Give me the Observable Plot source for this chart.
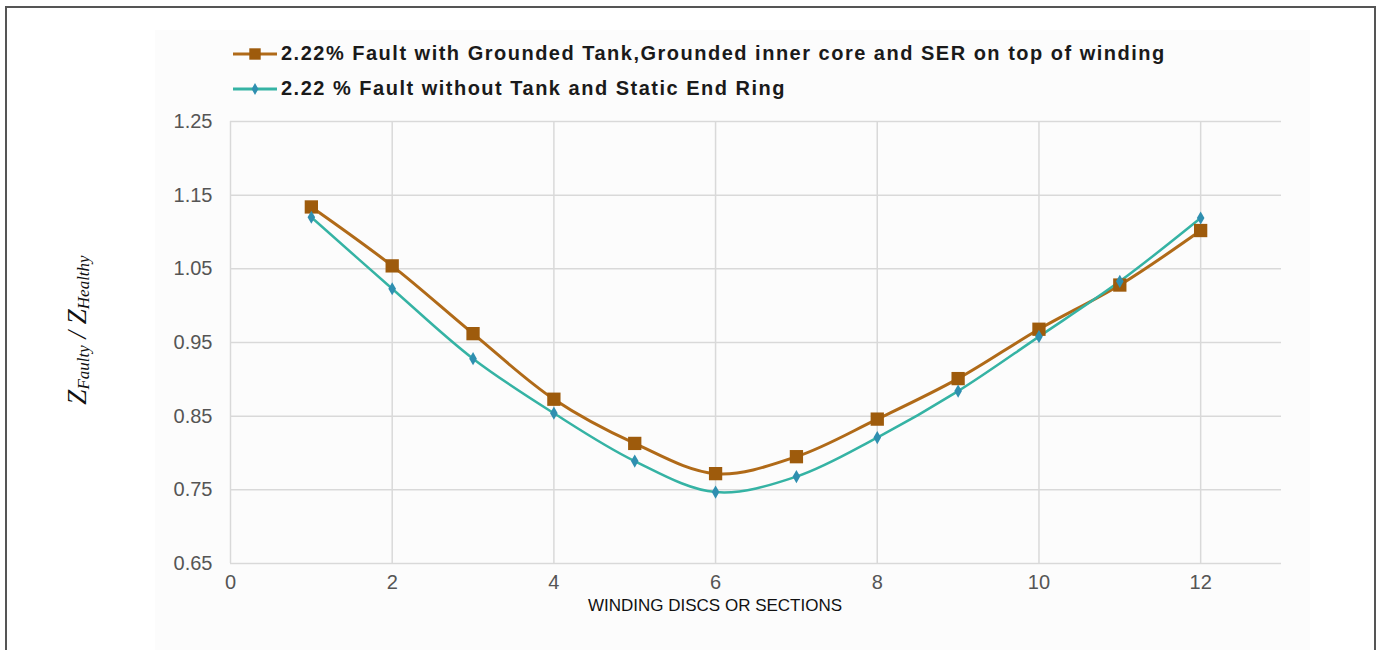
<!DOCTYPE html>
<html>
<head>
<meta charset="utf-8">
<script src="https://cdn.jsdelivr.net/npm/d3@7"></script>
<script src="https://cdn.jsdelivr.net/npm/@observablehq/plot@0.6"></script>
<style>
  html, body { margin: 0; padding: 0; background: #ffffff; }
  #wrap { position: relative; width: 1384px; height: 650px; overflow: hidden; }
  #frame { position: absolute; left: 5px; top: 6px; width: 1371px; height: 700px; border: 2px solid #555555; box-sizing: border-box; }
  #bg { position: absolute; left: 155px; top: 30px; width: 1155px; height: 620px; background: #fcfcfc; }
  #chart { position: absolute; left: 0; top: 0; }
  #legend { position: absolute; left: 233px; top: 36px; font-family: "Liberation Sans", Arial, sans-serif; font-weight: bold; font-size: 20px; color: #1a1a1a; letter-spacing: 1.5px; }
  .item { display: flex; align-items: center; height: 35px; }
  .item svg { margin-right: 2px; }
  #ylabel { position: absolute; left: 78px; top: 330px; transform: translate(-50%, -50%) rotate(-90deg); font-family: "Liberation Serif", "Times New Roman", serif; font-style: italic; font-size: 27px; white-space: nowrap; color: #111; }
  #ylabel sub { font-size: 17px; vertical-align: -3px; }
  #xlabel { position: absolute; left: 715px; top: 606px; transform: translate(-50%, -50%); font-family: "Liberation Sans", Arial, sans-serif; font-size: 17px; color: #111; white-space: nowrap; }
</style>
</head>
<body>
<div id="wrap">
  <div id="bg"></div>
  <div id="chart"></div>
  <div id="frame"></div>
  <div id="legend"></div>
  <div id="ylabel">Z<sub>Faulty</sub> / Z<sub>Healthy</sub></div>
  <div id="xlabel">WINDING DISCS OR SECTIONS</div>
</div>
<script>
// ---- data ----
const discs = [1, 2, 3, 4, 5, 6, 7, 8, 9, 10, 11, 12];
const faultWithTank = [1.134, 1.054, 0.962, 0.873, 0.813, 0.772, 0.795, 0.846, 0.901, 0.968, 1.028, 1.102];
const faultWithoutTank = [1.120, 1.023, 0.928, 0.854, 0.789, 0.747, 0.768, 0.821, 0.884, 0.958, 1.033, 1.119];
const seriesNames = [
  "2.22% Fault with Grounded Tank,Grounded inner core and SER on top of winding",
  "2.22 % Fault without Tank and Static End Ring"
];
const xTicks = [0, 2, 4, 6, 8, 10, 12];
const yTicks = [0.65, 0.75, 0.85, 0.95, 1.05, 1.15, 1.25];
const xLabel = "WINDING DISCS OR SECTIONS";

const brownLine = "#b06a18", brownMark = "#9e5b0c";
const tealLine = "#35b3a4", tealMark = "#2f8fb0";

const rowsA = discs.map((d, i) => ({disc: d, value: faultWithTank[i]}));
const rowsB = discs.map((d, i) => ({disc: d, value: faultWithoutTank[i]}));

const chart = Plot.plot({
  width: 1384,
  height: 650,
  marginLeft: 230,
  marginRight: 103,
  marginTop: 121,
  marginBottom: 87,
  style: {background: "transparent", fontFamily: "Liberation Sans, Arial, sans-serif", fontSize: "20px", color: "#555555"},
  x: {domain: [0, 13]},
  y: {domain: [0.65, 1.25]},
  marks: [
    Plot.gridY(yTicks, {stroke: "#d9d9d9", strokeOpacity: 1, strokeWidth: 1.5}),
    Plot.gridX(xTicks, {stroke: "#d9d9d9", strokeOpacity: 1, strokeWidth: 1.5}),
    Plot.axisY(yTicks, {tickSize: 0, tickPadding: 18, fontSize: 20, tickFormat: d3.format(".2f"), label: null}),
    Plot.axisX(xTicks, {tickSize: 0, tickPadding: 11, fontSize: 20, tickFormat: d3.format("d"), label: null}),
    Plot.line(rowsA, {x: "disc", y: "value", stroke: brownLine, strokeWidth: 3, curve: "catmull-rom"}),
    Plot.line(rowsB, {x: "disc", y: "value", stroke: tealLine, strokeWidth: 2.5, curve: "catmull-rom"}),
    Plot.dot(rowsA, {x: "disc", y: "value", symbol: "square", r: 7.5, fill: brownMark, stroke: "none"}),
    Plot.dot(rowsB, {x: "disc", y: "value", symbol: "diamond", r: 4, fill: tealMark, stroke: "none"})
  ]
});
document.getElementById("chart").appendChild(chart);
document.getElementById("xlabel").textContent = xLabel;

// legend
const legend = document.getElementById("legend");
const legendItems = [
  {name: seriesNames[0], line: brownLine, mark: brownMark, symbol: d3.symbolSquare, size: 130},
  {name: seriesNames[1], line: tealLine, mark: tealMark, symbol: d3.symbolDiamond, size: 40}
];
legendItems.forEach(it => {
  const div = document.createElement("div");
  div.className = "item";
  const svg = d3.create("svg").attr("width", 46).attr("height", 20);
  svg.append("line").attr("x1", 0).attr("x2", 44).attr("y1", 10).attr("y2", 10)
    .attr("stroke", it.line).attr("stroke-width", 3);
  svg.append("path").attr("transform", "translate(22,10)")
    .attr("d", d3.symbol(it.symbol, it.size)()).attr("fill", it.mark);
  div.appendChild(svg.node());
  const span = document.createElement("span");
  span.textContent = it.name;
  div.appendChild(span);
  legend.appendChild(div);
});
</script>
</body>
</html>
